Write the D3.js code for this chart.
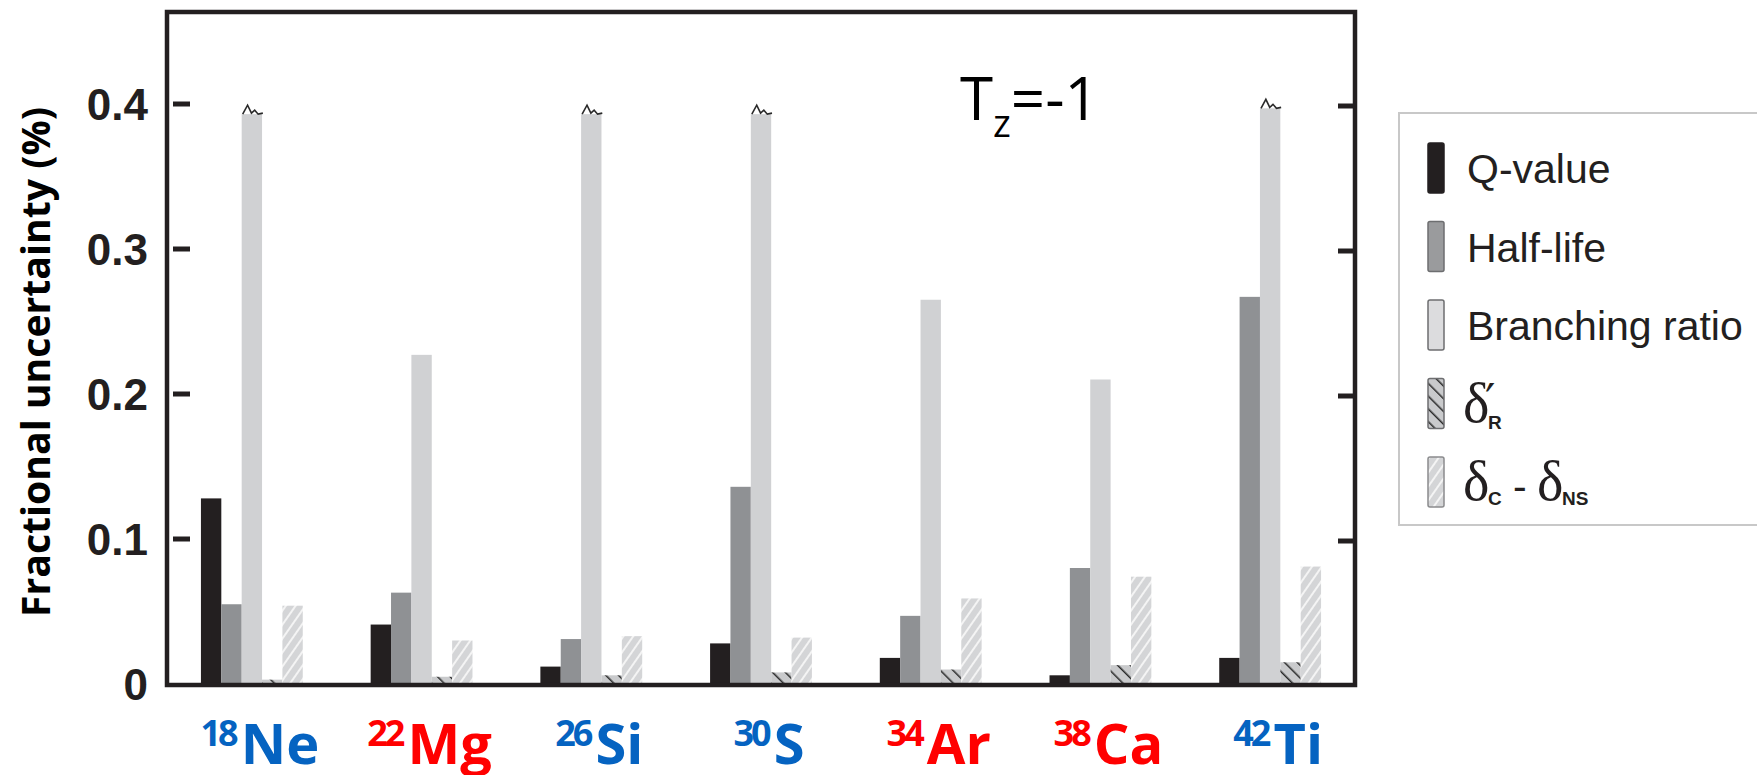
<!DOCTYPE html>
<html>
<head>
<meta charset="utf-8">
<title>Fractional uncertainty, Tz=-1</title>
<style>
  body { margin: 0; background: #fff; }
  svg text { font-family: "Liberation Sans", Arial, Helvetica, sans-serif; fill: #231f20; }
  .tick-label { font-size: 44px; font-weight: bold; }
  .nuclide { font-family: "Open Sans", sans-serif; font-weight: bold; }
  .legend-text { font-size: 41px; }
</style>
</head>
<body>
<div id="chart"></div>
<script src="https://cdn.jsdelivr.net/npm/d3@7"></script>
<script>
// nuclides on the x axis
const masses  = ["18", "22", "26", "30", "34", "38", "42"];
const symbols = ["Ne", "Mg", "Si", "S", "Ar", "Ca", "Ti"];
const labelColors = ["#0563c1", "#ff0000", "#0563c1", "#0563c1", "#ff0000", "#ff0000", "#0563c1"];

// fractional uncertainty (%) per contribution
const qValue    = [0.128, 0.041, 0.012, 0.028, 0.018, 0.006, 0.018];
const halfLife  = [0.055, 0.063, 0.031, 0.136, 0.047, 0.080, 0.267];
const branching = [0.393, 0.227, 0.393, 0.393, 0.265, 0.210, 0.397];
const deltaR    = [0.003, 0.005, 0.006, 0.008, 0.010, 0.013, 0.015];
const deltaCNS  = [0.054, 0.030, 0.033, 0.032, 0.059, 0.074, 0.081];
// branching ratio bars that run off the scale (drawn with a break mark)
const broken    = ["Ne", "Si", "S", "Ti"];

const yTicks = [0, 0.1, 0.2, 0.3, 0.4];
const tickLabels = ["0", "0.1", "0.2", "0.3", "0.4"];

const seriesKeys = ["q", "half", "branch", "dR", "dC"];
const seriesValues = { q: qValue, half: halfLife, branch: branching, dR: deltaR, dC: deltaCNS };

const width = 1757, height = 775;
const frame = { left: 167, right: 1355, top: 12, bottom: 685 };

const svg = d3.select("#chart").append("svg")
  .attr("width", width).attr("height", height);

const defs = svg.append("defs");

// hatch for delta_R' : dark "\" lines on light grey
let pR = defs.append("pattern").attr("id", "hatchR")
  .attr("patternUnits", "userSpaceOnUse").attr("width", 9).attr("height", 9)
  .attr("patternTransform", "rotate(-45)");
pR.append("rect").attr("width", 9).attr("height", 9).attr("fill", "#c9cacc");
pR.append("line").attr("x1", 0).attr("y1", 0).attr("x2", 0).attr("y2", 9)
  .attr("stroke", "#2a2a2a").attr("stroke-width", 3);

// hatch for delta_C - delta_NS : white "/" stripes on light grey
let pC = defs.append("pattern").attr("id", "hatchC")
  .attr("patternUnits", "userSpaceOnUse").attr("width", 8).attr("height", 8)
  .attr("patternTransform", "rotate(35)");
pC.append("rect").attr("width", 8).attr("height", 8).attr("fill", "#d4d5d7");
pC.append("line").attr("x1", 0).attr("y1", 0).attr("x2", 0).attr("y2", 8)
  .attr("stroke", "#f4f4f4").attr("stroke-width", 4);

const fills = { q: "#231f20", half: "#8f9194", branch: "#d0d1d3", dR: "url(#hatchR)", dC: "url(#hatchC)" };

let x0 = d3.scaleBand().domain(symbols)
  .range([frame.left, frame.right]).paddingInner(0.4).paddingOuter(0.2);
let x1 = d3.scaleBand().domain(seriesKeys).range([0, x0.bandwidth()]);
let y = d3.scaleLinear().domain([0, 0.4]).range([684, 104]);

// bars
let rows = symbols.map((s, i) => ({ sym: s, i: i }));
let groups = svg.append("g").selectAll("g").data(rows).enter().append("g")
  .attr("transform", d => `translate(${x0(d.sym)},0)`);

groups.selectAll("rect")
  .data(d => seriesKeys.map(k => ({ key: k, sym: d.sym, v: seriesValues[k][d.i] })))
  .enter().append("rect")
    .attr("x", d => x1(d.key))
    .attr("y", d => y(d.v))
    .attr("width", x1.bandwidth())
    .attr("height", d => y(0) - y(d.v))
    .attr("fill", d => fills[d.key]);

// break marks on top of off-scale branching bars
let squiggle = d3.line();
groups.filter(d => broken.includes(d.sym)).append("path")
  .attr("d", d => {
    let bx = x1("branch"), bw = x1.bandwidth(), ty = y(branching[d.i]);
    return squiggle([[bx + 0.05 * bw, ty], [bx + 0.29 * bw, ty - 9], [bx + 0.48 * bw, ty - 1],
                     [bx + 0.64 * bw, ty - 4], [bx + 0.81 * bw, ty], [bx + 1.04 * bw, ty - 1]]);
  })
  .attr("fill", "none").attr("stroke", "#2a2a2a").attr("stroke-width", 1.6);

// frame
svg.append("rect")
  .attr("x", frame.left).attr("y", frame.top)
  .attr("width", frame.right - frame.left).attr("height", frame.bottom - frame.top)
  .attr("fill", "none").attr("stroke", "#231f20").attr("stroke-width", 4.5);

// ticks (inside, left ones slightly detached from the frame)
let tickG = svg.append("g");
tickG.selectAll(".lt").data(yTicks.slice(1)).enter().append("line")
  .attr("x1", 173).attr("x2", 190)
  .attr("y1", d => y(d)).attr("y2", d => y(d))
  .attr("stroke", "#231f20").attr("stroke-width", 5);
tickG.selectAll(".rt").data(yTicks.slice(1)).enter().append("line")
  .attr("x1", frame.right - 17).attr("x2", frame.right)
  .attr("y1", d => y(d) + 2).attr("y2", d => y(d) + 2)
  .attr("stroke", "#231f20").attr("stroke-width", 5);

svg.append("g").selectAll("text").data(yTicks).enter().append("text")
  .attr("class", "tick-label")
  .attr("x", 148).attr("y", d => y(d)).attr("dy", "0.36em")
  .attr("text-anchor", "end")
  .text((d, i) => tickLabels[i]);

// y axis title
svg.append("text")
  .attr("transform", "translate(50,362) rotate(-90)")
  .attr("text-anchor", "middle")
  .attr("textLength", 510).attr("lengthAdjust", "spacingAndGlyphs")
  .style("font-family", "'Open Sans', sans-serif")
  .style("font-weight", "bold").style("font-size", "40px").style("fill", "#000")
  .text("Fractional uncertainty (%)");

// nuclide labels
let lab = svg.append("g").selectAll("text").data(rows).enter().append("text")
  .attr("class", "nuclide")
  .attr("x", d => x0(d.sym) + x0.bandwidth() / 2 + 8)
  .attr("y", 764)
  .attr("text-anchor", "middle")
  .style("fill", d => labelColors[d.i]);
lab.append("tspan").style("font-size", "36px").style("fill", d => labelColors[d.i])
  .attr("letter-spacing", -3).attr("dy", -18).text(d => masses[d.i]);
lab.append("tspan").style("font-size", "56px").style("fill", d => labelColors[d.i])
  .attr("dx", 5).attr("dy", 18).text(d => d.sym);

// Tz = -1 annotation
let tz = svg.append("text").attr("x", 960).attr("y", 120)
  .style("font-family", "'Open Sans', sans-serif").style("fill", "#000").style("font-size", "60px");
tz.append("tspan").text("T");
tz.append("tspan").style("font-size", "38px").attr("dy", 17).text("z");
tz.append("tspan").attr("dy", -17).text("=-1");

// legend
let legendLabels = ["Q-value", "Half-life", "Branching ratio"];
let ly = d3.scalePoint().domain(seriesKeys).range([143, 457]);
let legend = svg.append("g");
legend.append("rect")
  .attr("x", 1399).attr("y", 113).attr("width", 420).attr("height", 412)
  .attr("fill", "#fff").attr("stroke", "#c8c8c8").attr("stroke-width", 2);

let swFill = { q: "#231f20", half: "#9a9b9d", branch: "#dcdcde", dR: "url(#hatchR)", dC: "url(#hatchC)" };
let swStroke = { q: "#231f20", half: "#6d6e70", branch: "#6d6e70", dR: "#6d6e70", dC: "#8a8b8d" };
legend.selectAll(".sw").data(seriesKeys).enter().append("rect")
  .attr("x", 1428).attr("y", d => ly(d)).attr("width", 16).attr("height", 50)
  .attr("rx", 2)
  .attr("fill", d => swFill[d]).attr("stroke", d => swStroke[d]).attr("stroke-width", 1.5);

legend.selectAll(".lt").data(seriesKeys.slice(0, 3)).enter().append("text")
  .attr("class", "legend-text")
  .attr("x", 1467).attr("y", d => ly(d) + 40)
  .text((d, i) => legendLabels[i]);

const serif = "'Liberation Serif', 'DejaVu Serif', serif";
let tR = legend.append("text").attr("y", ly("dR") + 43);
tR.append("tspan").attr("x", 1463).style("font-family", serif).style("font-size", "56px").text("δ");
tR.append("tspan").attr("x", 1488).attr("dy", 7).style("font-size", "19px").style("font-weight", "bold").text("R");
tR.append("tspan").attr("x", 1485).attr("dy", -12).style("font-family", "'DejaVu Sans', sans-serif").style("font-size", "46px").text("′");

let tC = legend.append("text").attr("y", ly("dC") + 43);
tC.append("tspan").attr("x", 1463).style("font-family", serif).style("font-size", "56px").text("δ");
tC.append("tspan").attr("x", 1488).attr("dy", 5).style("font-size", "19px").style("font-weight", "bold").text("C");
tC.append("tspan").attr("x", 1513).attr("dy", -5).style("font-size", "41px").text("-");
tC.append("tspan").attr("x", 1537).style("font-family", serif).style("font-size", "56px").text("δ");
tC.append("tspan").attr("x", 1562).attr("dy", 5).style("font-size", "19px").style("font-weight", "bold").text("NS");
</script>
</body>
</html>
